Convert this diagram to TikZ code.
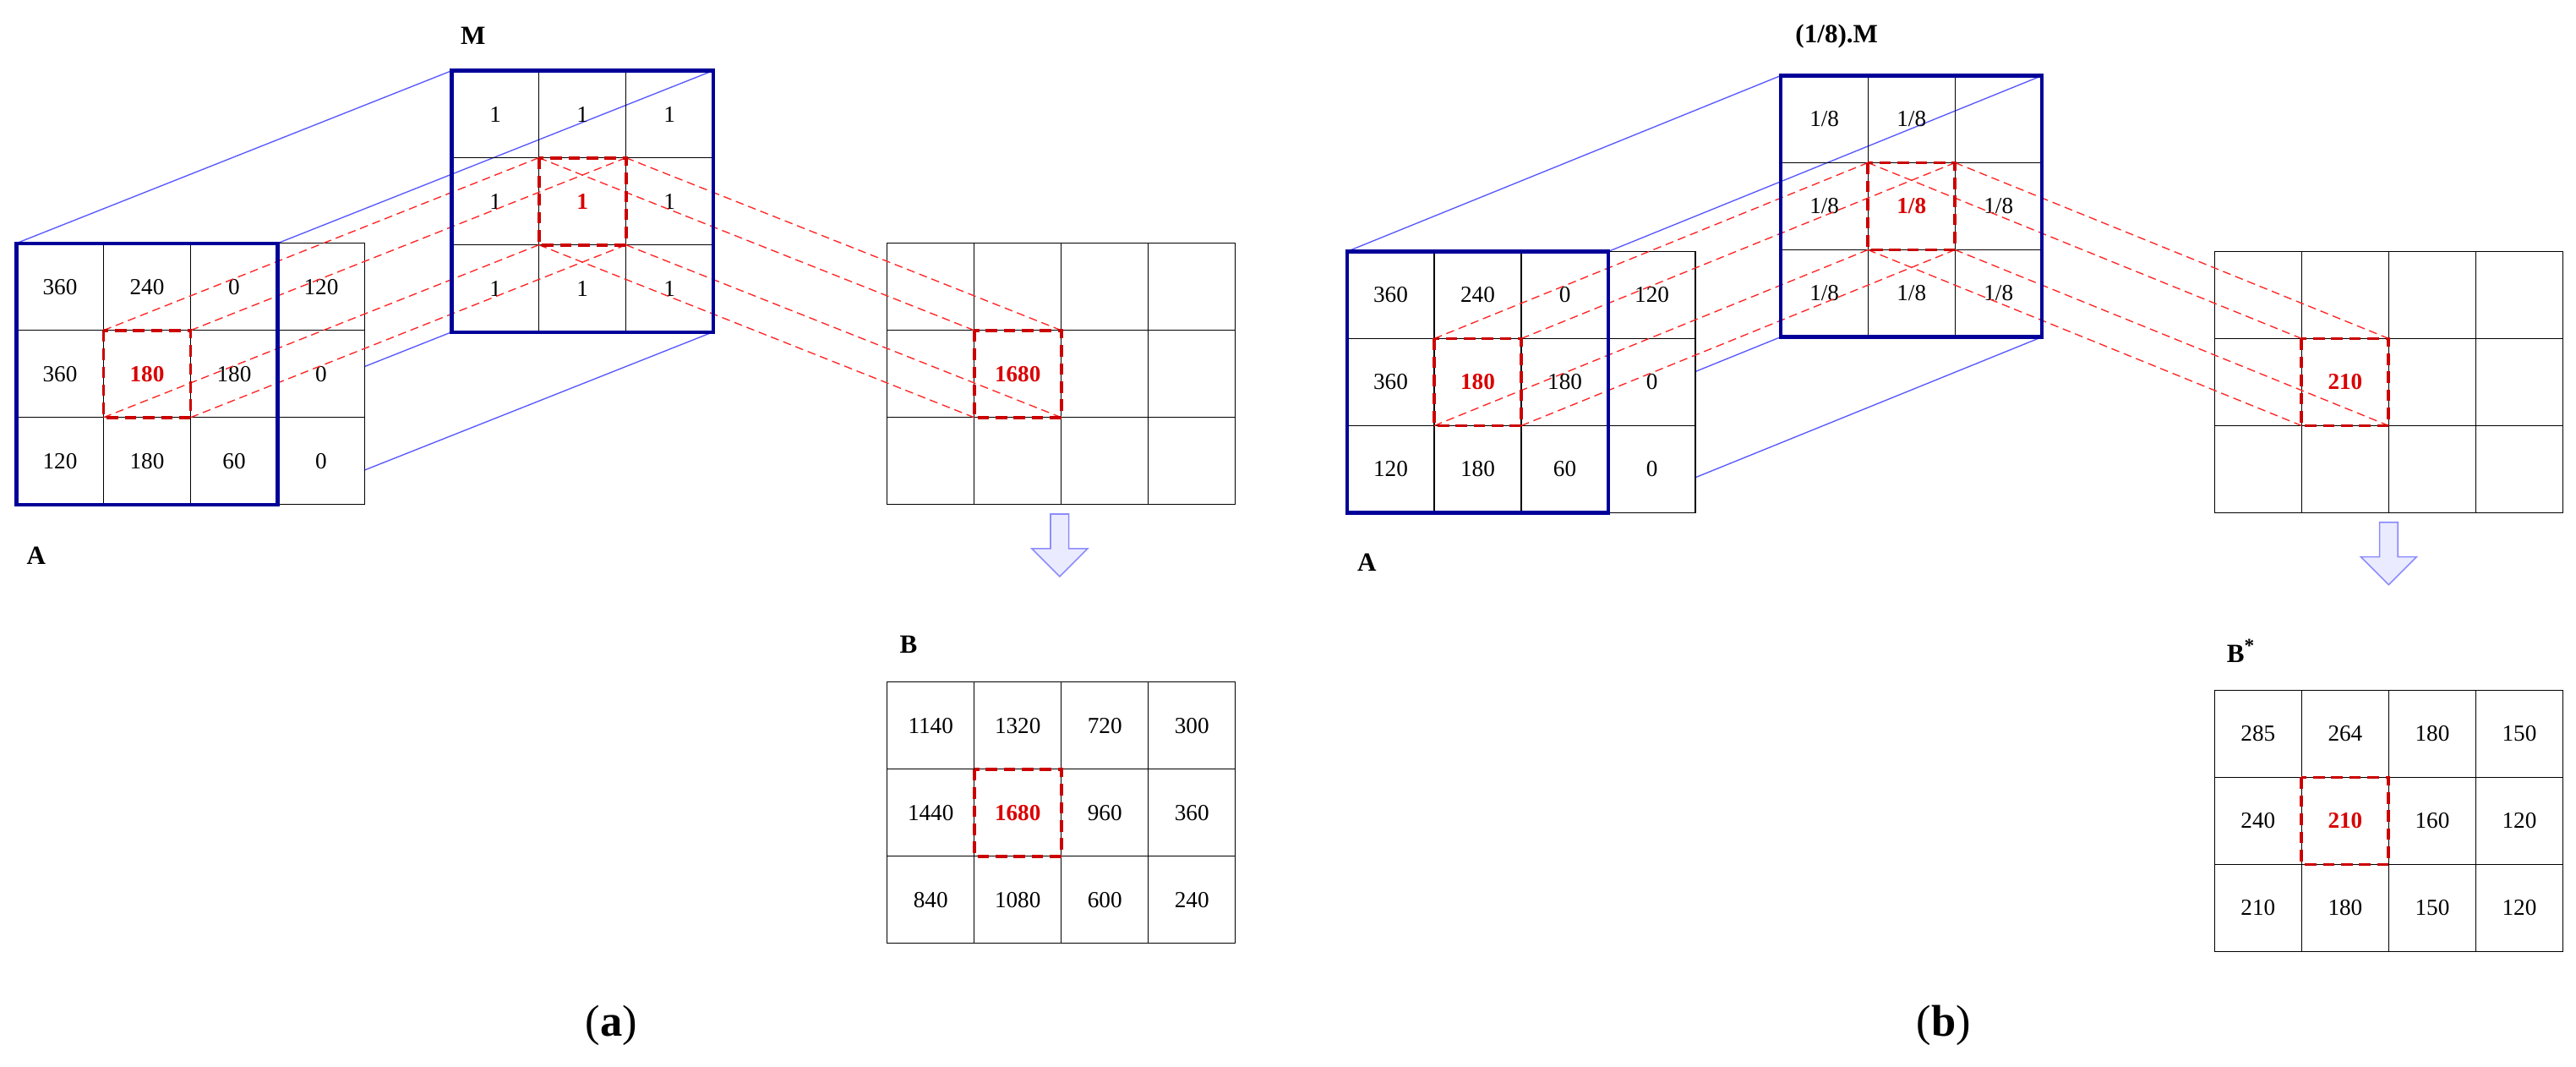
\documentclass[tikz,border=0pt]{standalone}
\usepackage{fontspec}
\setmainfont{Liberation Serif}
\usetikzlibrary{shapes.arrows}
\newcommand\cellfont{\fontsize{14}{16}\selectfont}
\newcommand\hl[1]{\textcolor{red!85!black}{\textbf{#1}}}
\newcommand\grow[5]{\foreach \t [count=\c from 0] in {#5} {\node[cell,#4] (#1-\c) at ({#2+53*\c},#3) {\t};}}
\begin{document}
\begin{tikzpicture}[x=1pt,y=-1pt,
  cell/.style={draw=black, line width=0.7pt, minimum width=53pt, minimum height=53pt, inner sep=0pt, outer sep=0pt, font=\cellfont, anchor=north west},
  bluebox/.style={draw=blue!60!black, line width=2.2pt},
  blueline/.style={draw=blue!65, line width=0.7pt},
  redsq/.style={draw=red!80!black, line width=2pt, dash pattern=on 7pt off 4pt},
  redline/.style={draw=red!85, line width=0.7pt, dash pattern=on 5pt off 3pt},
  lab/.style={font=\fontsize{16}{18}\selectfont\bfseries},
  darr/.style={single arrow, shape border rotate=270, draw=blue!45, fill=blue!8, line width=0.8pt, minimum height=38pt, minimum width=34pt, single arrow head extend=7pt, inner sep=3pt}]
\useasboundingbox (0,0) rectangle (1568,649);
% ================= (a) =================
\coordinate (aAtl) at (10,148); \coordinate (aAtr) at (169,148);
\coordinate (aAbl) at (10,307); \coordinate (aAbr) at (169,307);
\coordinate (aMtl) at (275,43); \coordinate (aMtr) at (434,43);
\coordinate (aMbl) at (275,202); \coordinate (aMbr) at (434,202);
\draw[blueline] (aAtl)--(aMtl) (aAtr)--(aMtr) (aAbl)--(aMbl) (aAbr)--(aMbr);
\grow{aA0}{10}{148}{fill=white}{360,240,0,120}
\grow{aA1}{10}{201}{fill=white}{360,\hl{180},180,0}
\grow{aA2}{10}{254}{fill=white}{120,180,60,0}
\grow{aM0}{275}{43}{}{1,1,1}
\grow{aM1}{275}{96}{}{1,\hl{1},1}
\grow{aM2}{275}{149}{}{1,1,1}
\grow{aO0}{540}{148}{}{,,,}
\grow{aO1}{540}{201}{}{,\hl{1680},,}
\grow{aO2}{540}{254}{}{,,,}
\foreach \a in {north west,north east,south west,south east}{
  \draw[redline] (aA1-1.\a)--(aM1-1.\a);
  \draw[redline] (aM1-1.\a)--(aO1-1.\a);}
\draw[bluebox] (aA0-0.north west) rectangle (aA2-2.south east);
\draw[bluebox] (aM0-0.north west) rectangle (aM2-2.south east);
\draw[redsq] (aA1-1.north west) rectangle (aA1-1.south east);
\draw[redsq] (aM1-1.north west) rectangle (aM1-1.south east);
\draw[redsq] (aO1-1.north west) rectangle (aO1-1.south east);
\grow{aB0}{540}{415}{}{1140,1320,720,300}
\grow{aB1}{540}{468}{}{1440,\hl{1680},960,360}
\grow{aB2}{540}{521}{}{840,1080,600,240}
\draw[redsq] (aB1-1.north west) rectangle (aB1-1.south east);
\node[darr] (aArr) at (645,329) {};
\node[lab] (aLM) at (288,22) {M};
\node[lab] (aLA) at (22,338) {A};
\node[lab] (aLB) at (553,392) {B};
\node[font=\fontsize{27}{30}\selectfont] (capa) at (372,624) {(\textbf{a})};
% ================= (b) =================
\coordinate (bAtl) at (820,153); \coordinate (bAtr) at (979,153);
\coordinate (bAbl) at (820,312); \coordinate (bAbr) at (979,312);
\coordinate (bMtl) at (1084,46); \coordinate (bMtr) at (1243,46);
\coordinate (bMbl) at (1084,205); \coordinate (bMbr) at (1243,205);
\draw[blueline] (bAtl)--(bMtl) (bAtr)--(bMtr) (bAbl)--(bMbl) (bAbr)--(bMbr);
\grow{bA0}{820}{153}{fill=white}{360,240,0,120}
\grow{bA1}{820}{206}{fill=white}{360,\hl{180},180,0}
\grow{bA2}{820}{259}{fill=white}{120,180,60,0}
\grow{bM0}{1084}{46}{}{1/8,1/8,}
\grow{bM1}{1084}{99}{}{1/8,\hl{1/8},1/8}
\grow{bM2}{1084}{152}{}{1/8,1/8,1/8}
\grow{bO0}{1348}{153}{}{,,,}
\grow{bO1}{1348}{206}{}{,\hl{210},,}
\grow{bO2}{1348}{259}{}{,,,}
\foreach \a in {north west,north east,south west,south east}{
  \draw[redline] (bA1-1.\a)--(bM1-1.\a);
  \draw[redline] (bM1-1.\a)--(bO1-1.\a);}
\draw[bluebox] (bA0-0.north west) rectangle (bA2-2.south east);
\draw[bluebox] (bM0-0.north west) rectangle (bM2-2.south east);
\draw[redsq] (bA1-1.north west) rectangle (bA1-1.south east);
\draw[redsq] (bM1-1.north west) rectangle (bM1-1.south east);
\draw[redsq] (bO1-1.north west) rectangle (bO1-1.south east);
\grow{bB0}{1348}{420}{}{285,264,180,150}
\grow{bB1}{1348}{473}{}{240,\hl{210},160,120}
\grow{bB2}{1348}{526}{}{210,180,150,120}
\draw[redsq] (bB1-1.north west) rectangle (bB1-1.south east);
\node[darr] (bArr) at (1454,334) {};
\node[lab] (bLM) at (1118,22) {(1/8).M};
\node[lab] (bLA) at (832,342) {A};
\node[lab] (bLB) at (1364,396) {B\textsuperscript{\large *}};
\node[font=\fontsize{27}{30}\selectfont] (capb) at (1183,624) {(\textbf{b})};
\end{tikzpicture}
\end{document}
